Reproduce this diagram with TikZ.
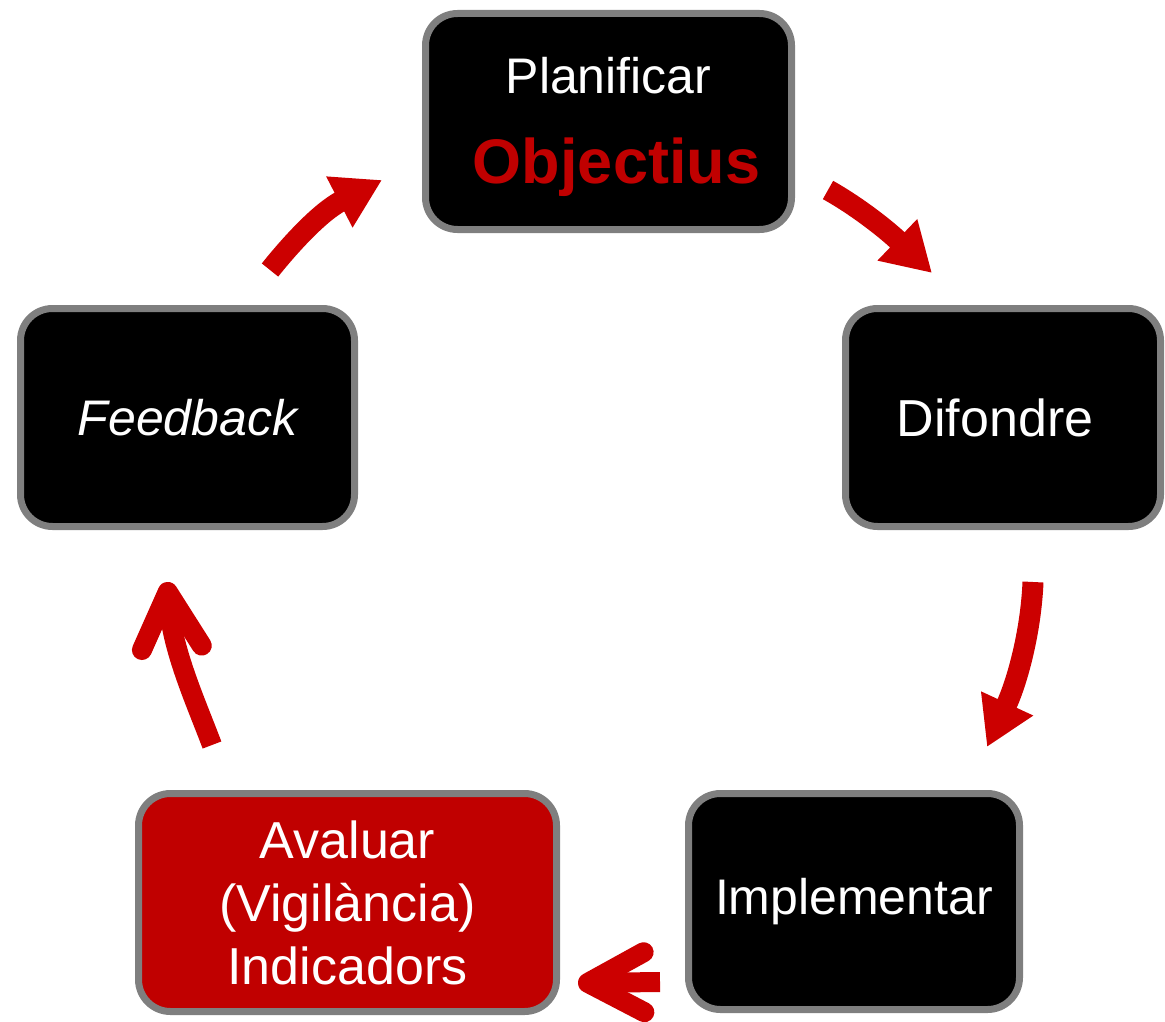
\documentclass[tikz,border=0pt]{standalone}
\usepackage{fontspec}
\setmainfont{Liberation Sans}
\usepackage{tikz}
\usetikzlibrary{arrows.meta,positioning}
\definecolor{boxgray}{HTML}{7F7F7F}
\definecolor{darkred}{HTML}{C00000}
\definecolor{arrowred}{HTML}{CC0000}
\tikzstyle{box} = [draw=boxgray, line width=7pt, rounded corners=32pt, fill=black, text=white, align=center, inner sep=0pt, font=\fontsize{50}{63}\selectfont]
\tikzstyle{arrow} = [draw=arrowred, line width=21pt, -{Triangle[length=48pt,width=54pt]}]
\tikzstyle{openarrow} = [draw=arrowred, line width=20pt, -{Straight Barb[round,length=56pt,width=60pt]}]

\begin{document}
\begin{tikzpicture}[x=1pt, y=-1pt]
        \useasboundingbox (0,0) rectangle (1165,1022);
        \node[box, minimum width=366pt, minimum height=216pt] (plan) at (608.5,121.5) {\rule{0pt}{47pt}Planificar\\[27pt]{\bfseries\fontsize{63}{74}\selectfont\color{darkred}\hspace*{16pt}Objectius}};
        \node[box, minimum width=315pt, minimum height=218pt, font=\fontsize{52}{63}\selectfont] (dif) at (1003,417.5) {Difondre\hspace*{16pt}};
        \node[box, minimum width=331pt, minimum height=216pt] (impl) at (854,901.5) {Implementar};
        \node[box, fill=darkred, minimum width=418pt, minimum height=218pt, font=\fontsize{52}{63}\selectfont] (aval) at (347.5,902.5) {Avaluar\\(Vigilància)\\Indicadors};
        \node[box, minimum width=334pt, minimum height=218pt] (feed) at (187.5,417.5) {\itshape Feedback};
        \coordinate (feedout) at (270,270); \coordinate (planin) at (382,180);
        \coordinate (planout) at (828,190); \coordinate (difin) at (932,273);
        \coordinate (difout) at (1033,582); \coordinate (implin) at (987,747);
        \coordinate (implout) at (660,982); \coordinate (avalin) at (578,983);
        \coordinate (avalout) at (212,745); \coordinate (feedin) at (167,582);
        \draw[arrow] (feedout) .. controls (290,245) and (320,212) .. (planin);
        \draw[arrow] (planout) .. controls (855,205) and (885,228) .. (difin);
        \draw[arrow] (difout) .. controls (1031,630) and (1018,680) .. (implin);
        \draw[openarrow] (implout) -- (avalin);
        \draw[openarrow] (avalout) .. controls (195,700) and (172,650) .. (feedin);
        % \draw[boxgray] (plan) -- (dif);
\end{tikzpicture}
\end{document}
